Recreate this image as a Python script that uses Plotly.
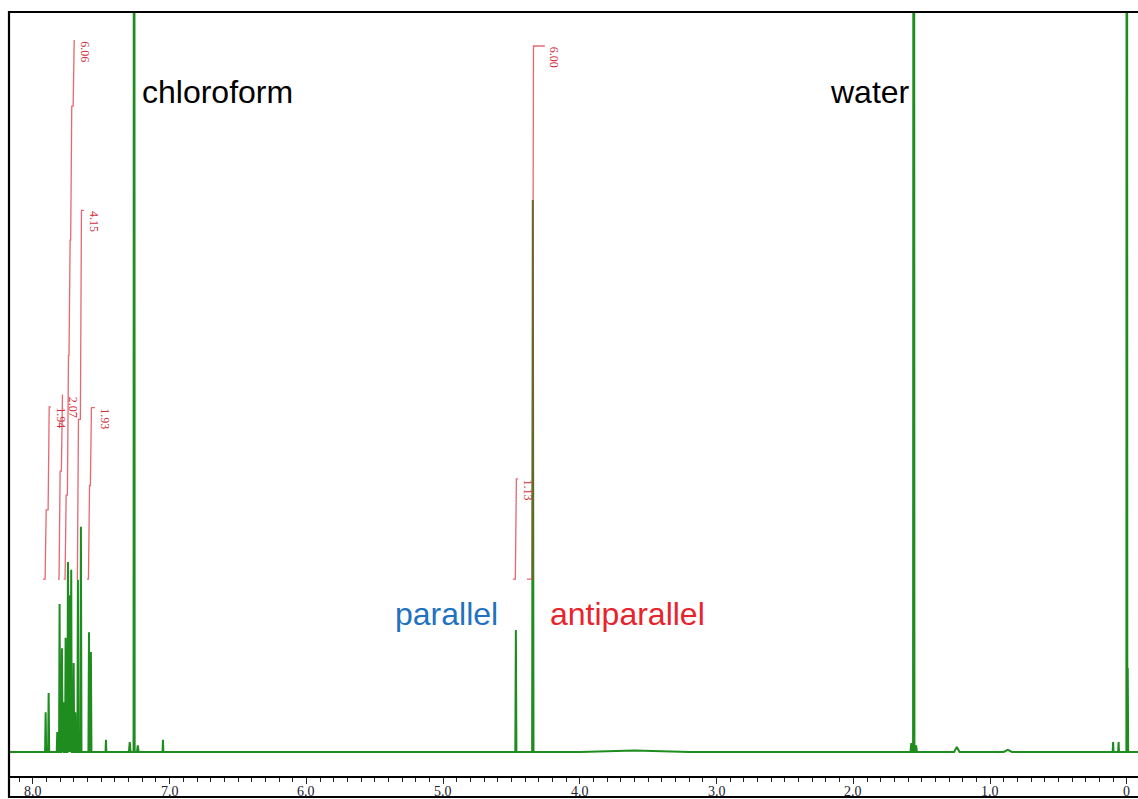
import numpy as np
import plotly.graph_objects as go

# ---------------- data ----------------
# 1H NMR peaks: chemical shift (ppm), relative intensity (antiparallel CH2 = 100), half width (ppm)
peak_ppm = [7.907, 7.885, 7.822, 7.805, 7.788, 7.778, 7.761, 7.744, 7.732, 7.720,
            7.702, 7.690, 7.671, 7.649, 7.590, 7.576, 7.466, 7.292, 7.260, 7.233,
            7.049, 4.468, 4.344, 3.600, 1.576, 1.558, 1.541, 1.243, 0.870, 0.100,
            0.060, 0.000, -0.007]
peak_int = [7.2, 10.7, 3.6, 26.8, 18.8, 9.0, 20.7, 34.4, 28.4, 33.0,
            16.1, 7.2, 31.2, 40.8, 21.7, 18.1, 2.2, 1.8, 400.0, 1.2,
            2.2, 22.1, 100.0, 0.25, 1.6, 400.0, 1.2, 0.9, 0.4, 1.8,
            1.8, 400.0, 15.2]
peak_hw = [0.004, 0.004, 0.004, 0.004, 0.004, 0.004, 0.004, 0.004, 0.004, 0.004,
           0.004, 0.004, 0.004, 0.004, 0.004, 0.004, 0.003, 0.006, 0.004, 0.006,
           0.003, 0.004, 0.005, 0.400, 0.006, 0.005, 0.006, 0.020, 0.030, 0.003,
           0.003, 0.003, 0.003]

# integrals: value, region start (ppm), region end (ppm)
int_values = [1.94, 2.07, 6.06, 4.15, 1.93, 1.13, 6.00]
int_from = [7.927, 7.817, 7.775, 7.680, 7.605, 4.490, 4.387]
int_to = [7.868, 7.780, 7.693, 7.627, 7.547, 4.453, 4.256]

# axis tick labels
tick_vals = [8, 7, 6, 5, 4, 3, 2, 1, 0]
tick_text = ["8.0", "7.0", "6.0", "5.0", "4.0", "3.0", "2.0", "1.0", "0"]

# solvent / signal labels
solvent_ppm = {"chloroform": 7.260, "water": 1.558}
signal_ppm = {"parallel": 4.468, "antiparallel": 4.344}

# ---------------- build spectrum line ----------------
order = np.argsort(peak_ppm)[::-1]
sx, sy = [8.4], [0.0]
for i in order:
    p, h, w = peak_ppm[i], peak_int[i], peak_hw[i]
    sx += [p + w, p, p - w]
    sy += [0.0, h, 0.0]
sx.append(-0.3)
sy.append(0.0)

GREEN = "#1e8c1e"
RED_LINE = "rgba(222,45,60,0.72)"
RED_TEXT = "#d0303c"

fig = go.Figure()
fig.add_trace(go.Scatter(x=sx, y=sy, mode="lines",
                         line=dict(color=GREEN, width=2),
                         hoverinfo="skip", showlegend=False))

# ---------------- integral curves ----------------
INT_BASE = 31.3      # vertical offset of integral curves
INT_SCALE = 16.1     # height per integral unit
annotations = []
for val, a, b in zip(int_values, int_from, int_to):
    idx = [i for i in order if b < peak_ppm[i] < a]
    areas = [peak_int[i] * peak_hw[i] for i in idx]
    total = sum(areas)
    cx, cy = [a], [0.0]
    cum = 0.0
    for i, ar in zip(idx, areas):
        cx.append(peak_ppm[i] + peak_hw[i]); cy.append(cum)
        cum += ar
        cx.append(peak_ppm[i] - peak_hw[i]); cy.append(cum)
    cx.append(b); cy.append(total)
    cy = [INT_BASE + val * INT_SCALE * c / total for c in cy]
    fig.add_trace(go.Scatter(x=cx, y=cy, mode="lines",
                             line=dict(color=RED_LINE, width=1.3),
                             hoverinfo="skip", showlegend=False))
    annotations.append(dict(x=b, y=cy[-1], xref="x", yref="y",
                            text=f"{val:.2f}", showarrow=False,
                            textangle=90, xanchor="left", yanchor="top",
                            xshift=1, yshift=1,
                            font=dict(family="Liberation Serif", size=12, color=RED_TEXT)))

# ---------------- tick labels (drawn as text just under the axis) ----------------
for v, t in zip(tick_vals, tick_text):
    annotations.append(dict(x=v, y=-0.0205, xref="x", yref="paper", text=t,
                            showarrow=False, xanchor="center", yanchor="middle",
                            borderpad=0,
                            font=dict(family="Liberation Serif", size=14, color="#222233")))

# ---------------- text labels ----------------
big = dict(family="Liberation Sans, Arial", size=32)
annotations += [
    dict(x=solvent_ppm["chloroform"], y=0.895, xref="x", yref="paper",
         text="chloroform", showarrow=False, xanchor="left", yanchor="middle",
         xshift=6, font=dict(**big, color="black")),
    dict(x=solvent_ppm["water"], y=0.895, xref="x", yref="paper",
         text="water", showarrow=False, xanchor="right", yanchor="middle",
         xshift=-2, font=dict(**big, color="black")),
    dict(x=signal_ppm["parallel"], y=0.212, xref="x", yref="paper",
         text="parallel", showarrow=False, xanchor="right", yanchor="middle",
         xshift=-16, font=dict(**big, color="#1f72bf")),
    dict(x=signal_ppm["antiparallel"], y=0.212, xref="x", yref="paper",
         text="antiparallel", showarrow=False, xanchor="left", yanchor="middle",
         xshift=15, font=dict(**big, color="#e8232b")),
]

# frame
shapes = [dict(type="rect", xref="paper", yref="paper", x0=0, x1=1.02,
               y0=-0.0275, y1=1, line=dict(color="black", width=2.2),
               fillcolor="rgba(0,0,0,0)", layer="above")]

fig.update_layout(
    width=1138, height=799,
    margin=dict(l=9, r=0, t=12, b=23, autoexpand=False),
    paper_bgcolor="white", plot_bgcolor="white",
    annotations=annotations, shapes=shapes,
    xaxis=dict(range=[8.175, -0.082], showgrid=False, zeroline=False,
               automargin=False,
               showline=True, linecolor="black", linewidth=1.5,
               ticks="outside", ticklen=6, tickwidth=1.2, tickcolor="#222",
               tickmode="array", tickvals=tick_vals, showticklabels=False,
               minor=dict(dtick=0.1, tick0=0, ticks="outside", ticklen=4,
                          tickwidth=1, tickcolor="#222")),
    yaxis=dict(range=[-4.35, 134.06], visible=False, showgrid=False, zeroline=False,
               automargin=False),
)

fig.write_html("out.html")
